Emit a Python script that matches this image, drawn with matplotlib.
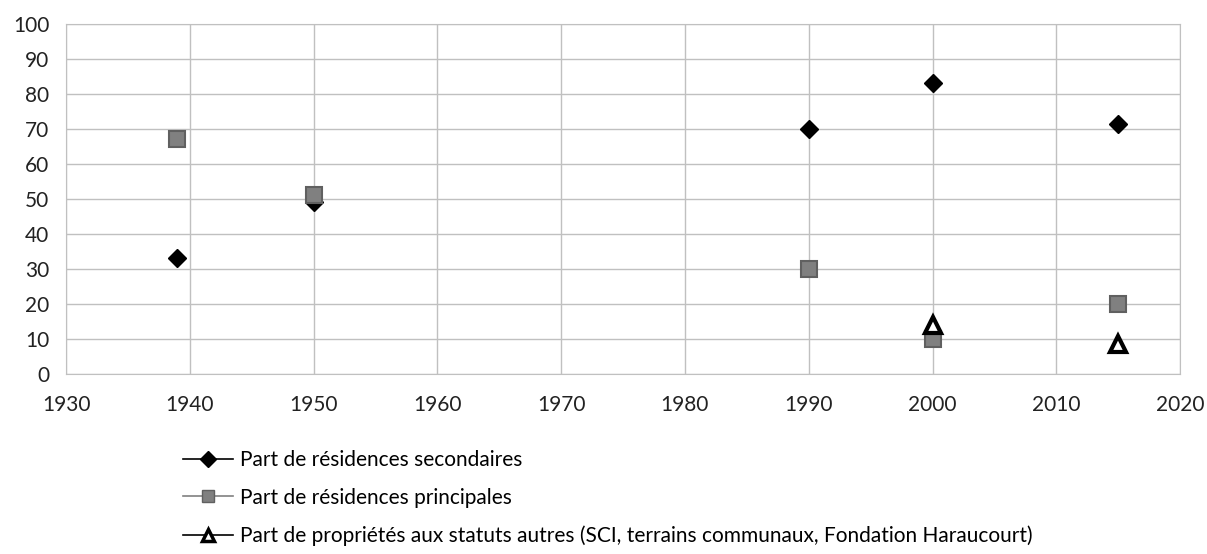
import matplotlib.pyplot as plt
from matplotlib.lines import Line2D

plt.rcParams['font.family'] = ['Lato', 'DejaVu Sans']

annees_sec = [1939, 1950, 1990, 2000, 2015]
secondaires = [33, 49, 70, 83, 71.5]

annees_pri = [1939, 1950, 1990, 2000, 2015]
principales = [67, 51, 30, 10, 20]

annees_aut = [2000, 2015]
autres = [14, 8.5]

labels = ["Part de résidences secondaires",
          "Part de résidences principales",
          "Part de propriétés aux statuts autres (SCI, terrains communaux, Fondation Haraucourt)"]

fig = plt.figure(figsize=(12.07, 5.54), dpi=100)
ax = fig.add_axes([0.0547, 0.325, 0.923, 0.632])

ax.plot(annees_sec, secondaires, 'D', color='black', markersize=9, linestyle='none', zorder=3)
ax.plot(annees_pri, principales, 's', color='#808080', markeredgecolor='#606060',
        markeredgewidth=1.5, markersize=11, linestyle='none', zorder=3)
ax.plot(annees_aut, autres, '^', color='white', markeredgecolor='black',
        markeredgewidth=3, markersize=11, linestyle='none', zorder=4)

ax.set_xlim(1930, 2020)
ax.set_ylim(0, 100)
ax.set_xticks(range(1930, 2021, 10))
ax.set_yticks(range(0, 101, 10))
ax.grid(True, color='#c0c0c0', linewidth=1)
ax.set_axisbelow(True)
for s in ax.spines.values():
    s.set_color('#c0c0c0')
ax.tick_params(length=0, labelsize=15, colors='#222222')
ax.tick_params(axis='x', pad=15)
ax.tick_params(axis='y', pad=12)

handles = [
    Line2D([], [], color='black', marker='D', markersize=8, linewidth=1.2),
    Line2D([], [], color='#808080', marker='s', markersize=9, markerfacecolor='#808080',
           markeredgecolor='#606060', linewidth=1.2),
    Line2D([], [], color='black', marker='^', markersize=9, markerfacecolor='white',
           markeredgewidth=2.5, linewidth=1.2),
]
fig.legend(handles, labels, loc='upper left', bbox_to_anchor=(0.145, 0.203),
           frameon=False, fontsize=15, handlelength=2.4, handletextpad=0.3,
           labelspacing=0.85, borderaxespad=0)

fig.savefig('out.png', dpi=100)
